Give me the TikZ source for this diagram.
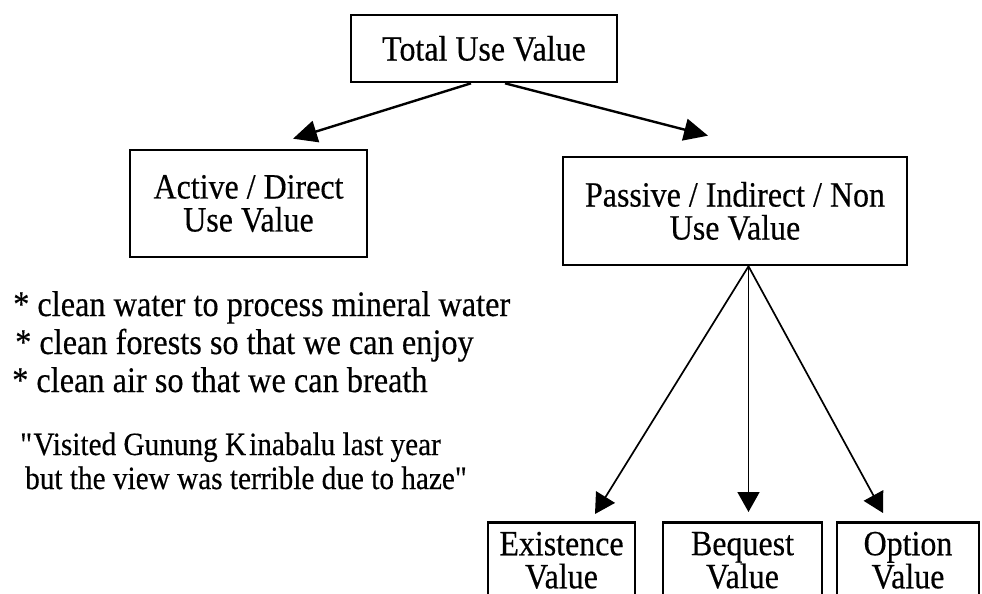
\documentclass[tikz,border=0pt]{standalone}
\usepackage{fontspec}
\setmainfont{Liberation Serif}
% slightly narrowed, heavier serif to get the tall, dark print look
\newfontfamily\printfont[FakeStretch=0.9,FakeBold=0.35]{Liberation Serif}
\usetikzlibrary{arrows.meta}
\begin{document}
\begin{tikzpicture}[x=1pt,y=-1pt,
  box/.style={draw, line width=2.6pt, align=center, inner sep=0pt,
    font=\printfont\fontsize{35.5}{33}\selectfont},
  link/.style={line width=2.4pt, -{Triangle[length=24pt,width=22pt]}},
  fanarr/.style={line width=1.7pt, -{Triangle[length=20pt,width=22pt]}},
  note/.style={anchor=base west, inner sep=0pt, font=\printfont\fontsize{35.9}{38}\selectfont},
  remark/.style={anchor=base west, inner sep=0pt, font=\printfont\fontsize{32.5}{34}\selectfont}]
\clip (0,0) rectangle (982,594);
\fill[white] (0,0) rectangle (982,594);

% value hierarchy
\node[box, minimum width=266pt, minimum height=67pt] (tuv) at (484,48.5) {Total Use Value};
\node[box, minimum width=237pt, minimum height=107pt] (act) at (248.5,203.5) {Active / Direct\\Use Value};
\node[box, minimum width=344pt, minimum height=108pt] (pas) at (735,211) {Passive / Indirect / Non\\Use Value};

% non-use value components (boxes run off the lower edge)
\node[box, anchor=north, minimum width=147pt, minimum height=76pt] (ex) at (561.5,521) {Existence\\Value};
\node[box, anchor=north, minimum width=159pt, minimum height=76pt] (beq) at (742.5,521) {Bequest\\Value};
\node[box, anchor=north, minimum width=142pt, minimum height=76pt] (opt) at (908,521) {Option\\Value};

% connectors
\draw[link] ([xshift=-13pt]tuv.south) -- ([xshift=44.5pt,yshift=10pt]act.north);
\draw[link] ([xshift=21pt]tuv.south) -- ([xshift=-27pt,yshift=20pt]pas.north);
\coordinate (fan) at ([xshift=13.5pt]pas.south);
\draw[fanarr] (fan) -- ([xshift=33.5pt,yshift=7pt]ex.north);
\draw[fanarr] (fan) -- ([xshift=6pt,yshift=9pt]beq.north);
\draw[fanarr] (fan) -- ([xshift=-25pt,yshift=8pt]opt.north);

% examples of direct use
\node[note] (n1) at (13,316) {* clean water to process mineral water};
\node[note] (n2) at (15,354) {* clean forests so that we can enjoy};
\node[note] (n3) at (12,392) {* clean air so that we can breath};

\node[remark] (q1) at (20,455) {\textquotedbl Visited Gunung K\kern3pt inabalu last year};
\node[remark] (q2) at (25,489) {but the view was terrible due to haze\textquotedbl};
\end{tikzpicture}
\end{document}
